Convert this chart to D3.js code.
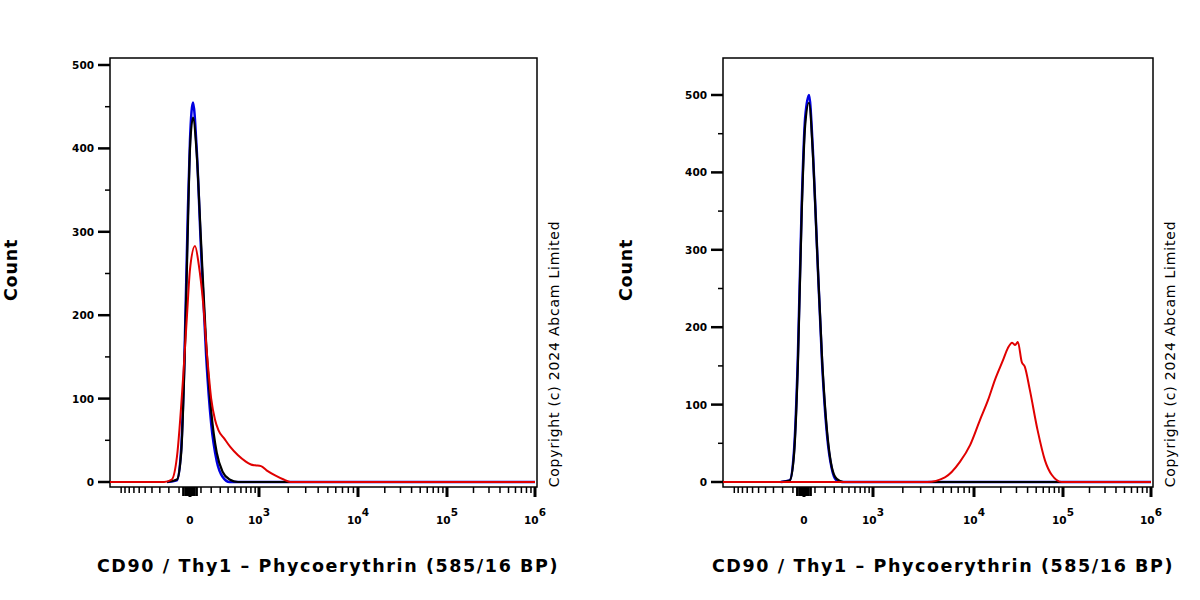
<!DOCTYPE html>
<html><head><meta charset="utf-8">
<script src="https://cdn.jsdelivr.net/npm/d3@7"></script>
<style>body{margin:0;background:#fff}svg{font-family:"DejaVu Sans",Verdana,sans-serif}</style>
</head><body><svg id="c" width="1200" height="600"></svg>
<script>
// fluorescence value -> count
const leftBlue  = [[-220,0],[-120,2],[-80,40],[-50,150],[-20,320],[0,410],[27,455],[60,400],[100,280],[150,150],[200,70],[260,25],[330,6],[420,0],[1e6,0]];
const leftBlack = [[-220,0],[-120,3],[-80,35],[-50,140],[-20,300],[0,400],[27,437],[60,395],[100,290],[150,165],[200,85],[260,35],[330,12],[420,3],[550,0],[1e6,0]];
const leftRed   = [[-1350,0],[-250,0],[-170,3],[-120,30],[-60,130],[-27,200],[0,255],[45,283],[80,260],[120,215],[160,150],[200,100],[240,75],[280,62],[350,52],[430,42],[550,32],[680,25],[800,21],[900,20],[1050,19],[1200,14],[1470,8],[1800,3],[2100,0],[1e6,0]];
const rightBlue  = [[-220,0],[-130,2],[-90,40],[-55,160],[-20,360],[10,470],[45,500],[80,430],[120,300],[170,150],[220,60],[270,18],[320,3],[400,0],[1e6,0]];
const rightBlack = [[-220,0],[-130,2],[-90,35],[-55,150],[-20,350],[10,460],[45,490],[80,425],[120,300],[170,155],[220,65],[270,20],[330,4],[420,0],[1e6,0]];
const rightRed   = [[-1350,0],[3470,0],[5190,6],[7280,26],[9180,48],[11660,80],[14400,106],[17200,132],[21300,158],[24000,173],[26800,180],[29000,177],[31100,181],[34400,155],[37200,149],[42400,119],[51800,67],[62700,28],[75000,9],[97000,0],[1e6,0]];
const yTicks = [0,100,200,300,400,500];
const xMajor = [0,1e3,1e4,1e5,1e6];
const xLabels = ["0","10","10","10","10"];
const xExp = ["","3","4","5","6"];
const xTitle = "CD90 / Thy1 – Phycoerythrin (585/16 BP)";
const yTitle = "Count";
const copyright = "Copyright (c) 2024 Abcam Limited";

const svg = d3.select("#c");
const g = v => Math.asinh(v/350);

function panel(opt){
  const {x0,x1,pos,yTop,series,titleX,countX,copyX} = opt;
  const bx = d3.scaleLinear().domain([g(-1350),0,g(1e3),g(1e4),g(1e5),g(1e6)]).range([x0,...pos]);
  const x = v => bx(g(v));
  const y = d3.scaleLinear().domain([0,500]).range([482,yTop]);
  const p = svg.append("g");
  p.append("rect").attr("x",x0).attr("y",58).attr("width",x1-x0).attr("height",487-58).attr("fill","none").attr("stroke","#000").attr("stroke-width",1.5);
  d3.range(0,501,50).forEach(t=>{
    const maj = t%100===0;
    p.append("line").attr("x1",x0-(maj?12:5)).attr("x2",x0).attr("y1",y(t)).attr("y2",y(t)).attr("stroke","#000").attr("stroke-width",maj?2.5:1.5);
  });
  yTicks.forEach(t=>p.append("text").attr("x",x0-16).attr("y",y(t)+4).attr("text-anchor","end").attr("font-size",10.5).attr("font-weight","bold").text(t));
  const minor=[];
  for(let k=1;k<=10;k++){minor.push(-100*k);}
  for(let k=1;k<=9;k++){minor.push(100*k);}
  [1e3,1e4,1e5].forEach(d=>{for(let k=2;k<=9;k++)minor.push(k*d);});
  minor.forEach(v=>p.append("line").attr("x1",x(v)).attr("x2",x(v)).attr("y1",487).attr("y2",493).attr("stroke","#000").attr("stroke-width",1.5));
  [-60,-40,-25,-12,12,25,40,60].forEach(v=>p.append("line").attr("x1",x(v)).attr("x2",x(v)).attr("y1",487).attr("y2",496).attr("stroke","#000").attr("stroke-width",2.5));
  xMajor.forEach((v,i)=>{
    p.append("line").attr("x1",x(v)).attr("x2",x(v)).attr("y1",487).attr("y2",497).attr("stroke","#000").attr("stroke-width",3);
    const tx = p.append("text").attr("x",x(v)).attr("y",524).attr("text-anchor","middle").attr("font-size",10.5).attr("font-weight","bold");
    tx.append("tspan").text(xLabels[i]);
    if(xExp[i]) tx.append("tspan").attr("dy",-8).attr("font-size",10.5).text(xExp[i]);
  });
  const line = d3.line().x(d=>x(d[0])).y(d=>y(d[1])).curve(d3.curveMonotoneX);
  series.forEach(s=>p.append("path").datum(s.data).attr("d",line).attr("fill","none").attr("stroke",s.color).attr("stroke-width",s.w));
  p.append("text").attr("x",titleX).attr("y",572).attr("text-anchor","middle").attr("font-size",17.5).attr("font-weight","bold").attr("letter-spacing",1.6).text(xTitle);
  p.append("text").attr("transform",`translate(${countX},270) rotate(-90)`).attr("text-anchor","middle").attr("font-size",17.5).attr("font-weight","bold").attr("letter-spacing",0.8).text(yTitle);
  p.append("text").attr("transform",`translate(${copyX},354) rotate(-90)`).attr("text-anchor","middle").attr("font-size",14).attr("letter-spacing",0.8).text(copyright);
}
panel({x0:110,x1:537,pos:[190,259,358,447,535],yTop:65,countX:17,titleX:328,copyX:559,
  series:[{data:leftBlue,color:"#0000e0",w:2.5},{data:leftBlack,color:"#000",w:2.2},{data:leftRed,color:"#e00000",w:2}]});
panel({x0:723,x1:1153,pos:[804,873,974,1063,1151],yTop:95,countX:632,titleX:943,copyX:1175,
  series:[{data:rightBlue,color:"#0000e0",w:2.5},{data:rightBlack,color:"#000",w:2.2},{data:rightRed,color:"#e00000",w:2}]});
</script></body></html>
